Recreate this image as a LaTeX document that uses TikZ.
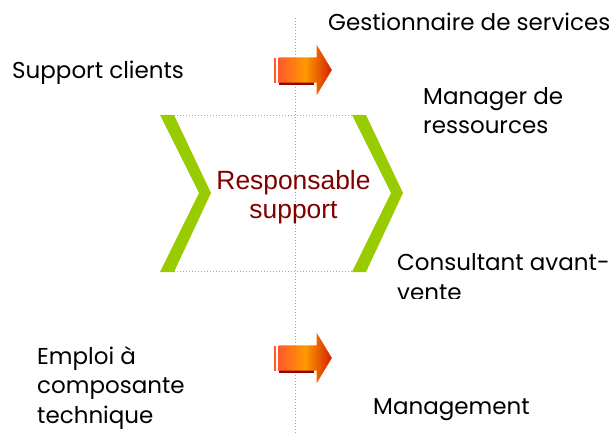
\documentclass[tikz,border=0pt]{standalone}
\usepackage{fontspec}
\setmainfont{Poppins}
\newfontfamily\arialfont{Liberation Sans}
\usetikzlibrary{shapes.arrows, positioning}
\definecolor{ChevronGreen}{HTML}{99CC00}
\definecolor{RoleRed}{HTML}{800000}
\definecolor{ArrowOrange}{HTML}{FF9900}
\definecolor{ArrowRed}{HTML}{FF5A2A}
\definecolor{ArrowDeep}{HTML}{D42000}
\definecolor{ArrowDark}{HTML}{990000}
\tikzset{
    guide/.style={
        draw=gray!70,
        dotted,
        line width=1pt
    },
    chevron/.style={
        fill=ChevronGreen,
        draw=none
    },
    rolelabel/.style={
        anchor=base west,
        inner sep=0pt,
        align=left,
        text=black,
        font=\fontsize{23}{29.5}\selectfont
    },
    centrelabel/.style={
        inner sep=0pt,
        align=center,
        text=RoleRed,
        font=\arialfont\fontsize{26.4}{29}\selectfont
    },
    blockarrow/.style={
        single arrow,
        single arrow head extend=12.5pt,
        single arrow tip angle=118,
        minimum height=53pt,
        inner sep=12.5pt,
        draw=none,
        left color=ArrowRed,
        right color=ArrowDeep,
        middle color=ArrowOrange
    },
    stripe/.style={
        fill=ArrowRed,
        draw=none
    }
}

\begin{document}
\begin{tikzpicture}[x=1pt, y=-1pt]
    \useasboundingbox (0,0) rectangle (613,433);

    % Dotted guides
    \coordinate (vtop) at (295,18);
    \coordinate (vbot) at (295,433);
    \draw[guide] (vtop) -- (vbot);
    \coordinate (htl) at (162,116);
    \coordinate (htr) at (356,116);
    \coordinate (hbl) at (162,271);
    \coordinate (hbr) at (356,271);
    \draw[guide] (htl) -- (htr);
    \draw[guide] (hbl) -- (hbr);

    % Chevrons
    \fill[chevron] (160,115) -- (174,115) -- (211,193) -- (174,272) -- (160,272) -- (199,193) -- cycle;
    \fill[chevron] (352,115) -- (366,115) -- (403,193) -- (366,272) -- (352,272) -- (391,193) -- cycle;

    % Centre role
    \node[centrelabel] (centre) at (293.5,197) {Responsable\\support};

    % Arrows
    \foreach \name/\y in {arrowtop/71, arrowbot/359} {
        \fill[ArrowDark] (279,\y-11) rectangle (314,\y+14);
        \fill[stripe] (274,\y-13) rectangle (276,\y+12);
        \fill[stripe] (278,\y-13) rectangle (280,\y+12);
        \node[blockarrow] (\name) at (301.5,\y-1) {};
    }

    % Roles around (base = last line)
    \node[rolelabel] (gestion) at (328,31) {Gestionnaire de services};
    \node[rolelabel] (support) at (12,79) {Support clients};
    \node[rolelabel] (manager) at (423,134) {Manager de\\ressources};
    \begin{scope}
        \clip (390,240) rectangle (613,298);
        \node[rolelabel] (avantvente) at (397,300) {Consultant avant-\\vente};
    \end{scope}
    \node[rolelabel] (emploi) at (37,423) {Emploi à\\composante\\technique};
    \node[rolelabel] (management) at (373,414) {Management};
\end{tikzpicture}
\end{document}
